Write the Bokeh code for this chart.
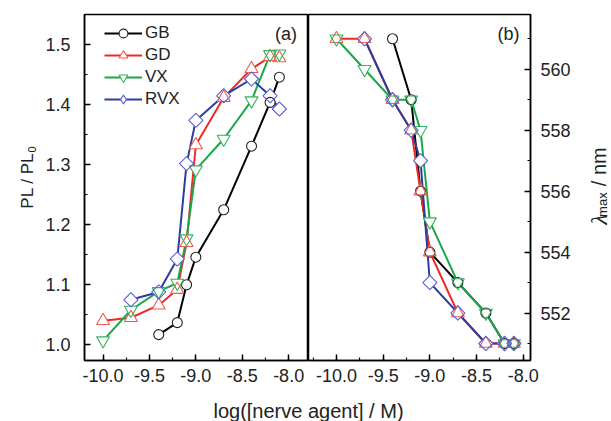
import math
from bokeh.plotting import figure
from bokeh.layouts import row, column
from bokeh.models import (SingleIntervalTicker, PrintfTickFormatter, Legend, LegendItem, Label, Range1d)
from bokeh.embed import file_html
from bokeh.resources import INLINE

# ---------------- data ----------------
conc_gb = [-9.4, -9.2, -9.1, -9.0, -8.7, -8.4, -8.2, -8.1]
conc_gd = [-10.0, -9.7, -9.4, -9.2, -9.1, -9.0, -8.7, -8.4, -8.2, -8.1]
conc_vx = [-10.0, -9.7, -9.4, -9.2, -9.1, -9.0, -8.7, -8.4, -8.2, -8.1]
conc_rvx = [-9.7, -9.4, -9.2, -9.1, -9.0, -8.7, -8.4, -8.2, -8.1]

pl_gb = [1.017, 1.037, 1.100, 1.146, 1.225, 1.331, 1.404, 1.446]
pl_gd = [1.040, 1.045, 1.066, 1.092, 1.170, 1.333, 1.412, 1.460, 1.480, 1.478]
pl_vx = [1.007, 1.058, 1.089, 1.103, 1.177, 1.292, 1.343, 1.407, 1.484, 1.485]
pl_rvx = [1.075, 1.088, 1.143, 1.302, 1.374, 1.415, 1.443, 1.415, 1.393]

lam_gb = [561, 559, 556, 554, 553, 552, 551, 551]
lam_gd = [561, 561, 559, 558, 556, 554, 552, 551, 551, 551]
lam_vx = [561, 560, 559, 559, 558, 555, 553, 552, 551, 551]
lam_rvx = [561, 559, 558, 557, 553, 552, 551, 551, 551]

series_names = ["GB", "GD", "VX", "RVX"]
x_label = "log([nerve agent] / M)"

# ---------------- styling / geometry ----------------
FONT = "Liberation Sans"
TXT = "#222222"
colors = {"GB": "#000000", "GD": "#ee2a24", "VX": "#1aa64b", "RVX": "#2b3d9f"}
mcolors = {"GB": "#222222", "GD": "#f05a4e", "VX": "#2fb35a", "RVX": "#5a5fcc"}
markers = {"GB": ("circle", 10, 0.0), "GD": ("triangle", 13, 0.0),
           "VX": ("inverted_triangle", 13, 0.0), "RVX": ("square", 10, math.pi / 4)}

W, H = 611, 421
L1, DIV, R2, TOP, BOT = 84, 308, 530, 14, 360
ROW_H = 395
LW, RW = 40, 36          # widths of side label strips
X1 = (-10.2, -7.786)
Y1 = (0.9738, 1.5505)
X2 = (-10.3, -7.922)
Y2 = (550.442, 561.797)


def p1x(px):
    return X1[0] + (px - L1) * (X1[1] - X1[0]) / (DIV - L1)


def p1y(py):
    return Y1[0] + (BOT - py) * (Y1[1] - Y1[0]) / (BOT - TOP)


def p2x(px):
    return X2[0] + (px - DIV) * (X2[1] - X2[0]) / (R2 - DIV)


def p2y(py):
    return Y2[0] + (BOT - py) * (Y2[1] - Y2[0]) / (BOT - TOP)


def make_fig(xr, yr, left, right, yloc, fw):
    p = figure(frame_width=fw, frame_height=BOT - TOP,
               x_range=xr, y_range=yr, min_border_left=left, min_border_right=right,
               min_border_top=TOP, min_border_bottom=ROW_H - BOT, y_axis_location=yloc,
               toolbar_location=None, output_backend="svg")
    p.xgrid.visible = False
    p.ygrid.visible = False
    p.outline_line_color = "black"
    p.outline_line_width = 1.5
    p.background_fill_color = "white"
    p.border_fill_color = "white"
    for ax in [p.xaxis[0], p.yaxis[0]]:
        ax.axis_line_width = 1.5
        ax.major_tick_line_width = 1.5
        ax.minor_tick_line_width = 1.2
        ax.major_tick_in = 6
        ax.major_tick_out = 0
        ax.minor_tick_in = 3
        ax.minor_tick_out = 0
        ax.major_label_text_font = FONT
        ax.major_label_text_font_size = "18px"
        ax.major_label_text_color = TXT
    p.xaxis[0].ticker = SingleIntervalTicker(interval=0.5, num_minor_ticks=2)
    p.xaxis[0].formatter = PrintfTickFormatter(format="%.1f")
    p.xaxis[0].major_label_standoff = 8
    return p


def strip(width, height, x0, y0):
    s = figure(width=width, height=height, x_range=Range1d(x0, x0 + width),
               y_range=Range1d(y0 + height, y0), min_border=0,
               x_axis_location=None, y_axis_location=None,
               toolbar_location=None, output_backend="svg")
    s.grid.visible = False
    s.outline_line_color = None
    s.background_fill_color = "white"
    s.border_fill_color = "white"
    return s


p1 = make_fig(X1, Y1, L1 - LW, 0, "left", DIV - L1)
p1.yaxis[0].ticker = SingleIntervalTicker(interval=0.1, num_minor_ticks=2)
p1.yaxis[0].formatter = PrintfTickFormatter(format="%.1f")
p1.yaxis[0].major_label_standoff = 14

p2 = make_fig(X2, Y2, 0, W - RW - R2, "right", R2 - DIV)
p2.yaxis[0].ticker = SingleIntervalTicker(interval=2, num_minor_ticks=2)
p2.yaxis[0].formatter = PrintfTickFormatter(format="%d")
p2.yaxis[0].major_label_standoff = 10

data_a = {"GB": (conc_gb, pl_gb), "GD": (conc_gd, pl_gd), "VX": (conc_vx, pl_vx), "RVX": (conc_rvx, pl_rvx)}
data_b = {"GB": (conc_gb, lam_gb), "GD": (conc_gd, lam_gd), "VX": (conc_vx, lam_vx), "RVX": (conc_rvx, lam_rvx)}


def draw(p, data):
    lines, masks, outs = {}, {}, {}
    for n in series_names:
        xs, ys = data[n]
        lines[n] = p.line(xs, ys, line_color=colors[n], line_width=2)
    for n in series_names:
        xs, ys = data[n]
        m, s, a = markers[n]
        masks[n] = p.scatter(xs, ys, marker=m, size=s, angle=a, fill_color="white", line_color=None)
    for n in series_names:
        xs, ys = data[n]
        m, s, a = markers[n]
        outs[n] = p.scatter(xs, ys, marker=m, size=s, angle=a, fill_color=None,
                            line_color=mcolors[n], line_width=1.1)
    return lines, masks, outs


la, ma, oa = draw(p1, data_a)
draw(p2, data_b)

# legend key for the diamond (legends draw markers unrotated); it has no drawable point
nan = float("nan")
rvx_key = p1.scatter(x=[nan], y=[nan], marker="diamond", size=14, fill_color="white",
                     line_color=mcolors["RVX"], line_width=1.1)
items = []
for n in series_names:
    rs = [la[n], ma[n], oa[n]] if n != "RVX" else [la[n], rvx_key]
    items.append(LegendItem(label=n, renderers=rs))
legend = Legend(items=items, location=(20, 250), padding=0, margin=0, spacing=0, glyph_width=38,
                glyph_height=22, label_height=20, label_standoff=3, border_line_color=None,
                background_fill_alpha=0, label_text_font=FONT, label_text_font_size="17px",
                label_text_color=TXT)
p1.add_layout(legend, "center")

p1.add_layout(Label(x=p1x(285.5), y=p1y(33), text="(a)", text_align="center", text_baseline="middle",
                    text_font=FONT, text_font_size="18px", text_color=TXT))
p2.add_layout(Label(x=p2x(508), y=p2y(33), text="(b)", text_align="center", text_baseline="middle",
                    text_font=FONT, text_font_size="18px", text_color=TXT))

# left strip: PL / PL0 (rotated, reads upward), coordinates are page pixels
pL = strip(LW, ROW_H, 0, 0)
y_join = 158
pL.add_layout(Label(x=27, y=y_join, text="PL / PL", angle=math.pi / 2, text_align="right",
                    text_baseline="alphabetic", text_font=FONT, text_font_size="17px",
                    text_color=TXT))
pL.add_layout(Label(x=31, y=y_join - 0.5, text="0", angle=math.pi / 2, text_align="left",
                    text_baseline="alphabetic", text_font=FONT, text_font_size="11px", text_color=TXT))

# right strip: lambda_max / nm (rotated, reads upward)
pR = strip(RW, ROW_H, W - RW, 0)
y_sub_end = 203
w_sub = 1.889 * 13
pR.add_layout(Label(x=598, y=y_sub_end + w_sub + 0.5, text="λ", angle=math.pi / 2, text_align="right",
                    text_baseline="alphabetic", text_font="Liberation Serif", text_font_style="italic",
                    text_font_size="24px", text_color=TXT))
pR.add_layout(Label(x=602, y=y_sub_end, text="max", angle=math.pi / 2, text_align="right",
                    text_baseline="alphabetic", text_font=FONT, text_font_size="13px", text_color=TXT))
pR.add_layout(Label(x=598, y=y_sub_end - 7, text="/ nm", angle=math.pi / 2, text_align="left",
                    text_baseline="alphabetic", text_font=FONT, text_font_size="20px", text_color=TXT))

# bottom strip: x-axis label spanning both panels
p3 = strip(W, H - ROW_H, 0, ROW_H)
p3.add_layout(Label(x=308, y=410, text=x_label, text_align="center", text_baseline="alphabetic",
                    text_font=FONT, text_font_size="20px", text_color=TXT))

layout = column(row(pL, p1, p2, pR), p3)
open("out.html", "w").write(file_html(layout, INLINE))
